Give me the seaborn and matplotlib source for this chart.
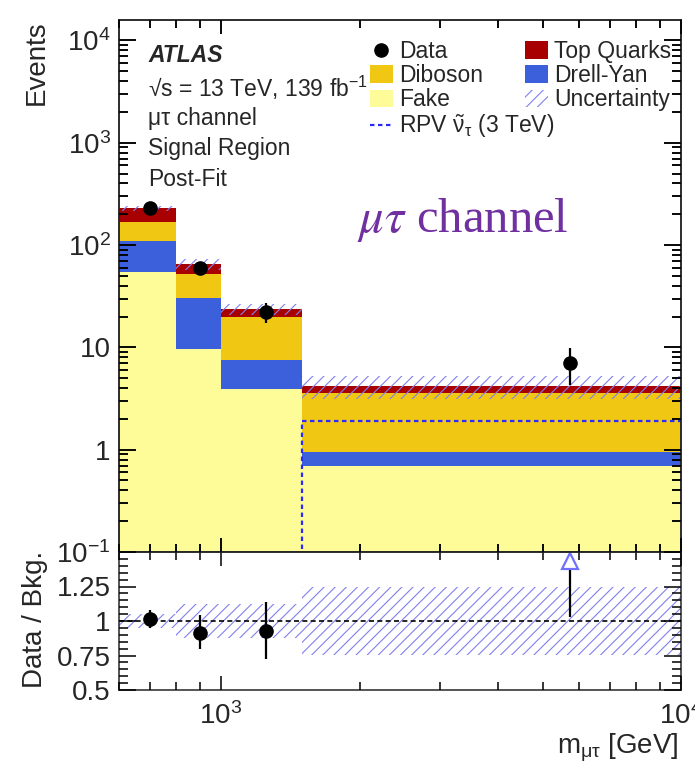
import numpy as np
import pandas as pd
import matplotlib
matplotlib.use("Agg")
import matplotlib.pyplot as plt
import seaborn as sns
from matplotlib.patches import Patch
from matplotlib.lines import Line2D
from matplotlib.ticker import FixedLocator, FuncFormatter, MultipleLocator, NullFormatter

# ---------------- data ----------------
bin_edges = [600, 800, 1000, 1500, 10000]
fake = [55.0, 9.6, 3.9, 0.69]
drell_yan = [55.0, 20.6, 3.7, 0.25]
diboson = [60.0, 22.5, 12.3, 2.65]
top_quarks = [58.0, 13.0, 3.9, 0.60]
data_counts = [231, 60, 22, 7]
data_err_up = [16.0, 8.5, 5.0, 2.8]
data_err_down = [15.0, 7.6, 4.7, 2.7]
rel_uncertainty = [0.05, 0.125, 0.125, 0.245]
signal_rpv = [0.01, 0.01, 0.02, 1.9]

process_names = ["Top Quarks", "Diboson", "Drell-Yan", "Fake"]
process_values = [top_quarks, diboson, drell_yan, fake]
colors = {"Top Quarks": "#a80000", "Diboson": "#f0c814",
          "Drell-Yan": "#3c5fdc", "Fake": "#fdfc99"}
hatch_color = "#8080f0"
signal_color = "#2a2aff"

# ---------------- style ----------------
sns.set_style("ticks")
plt.rcParams["font.family"] = ["Liberation Sans", "DejaVu Sans"]
plt.rcParams["mathtext.fontset"] = "custom"
plt.rcParams["mathtext.rm"] = "Liberation Sans"
plt.rcParams["mathtext.it"] = "Liberation Sans:italic"
plt.rcParams["mathtext.bf"] = "Liberation Sans:bold"
plt.rcParams["mathtext.default"] = "regular"
plt.rcParams["hatch.linewidth"] = 0.8
plt.rcParams["axes.linewidth"] = 1.1
plt.rcParams["axes.axisbelow"] = False

edges = np.array(bin_edges, dtype=float)
centers_geo = np.sqrt(edges[:-1] * edges[1:])
centers = 0.5 * (edges[:-1] + edges[1:])
total = np.sum(np.array(process_values), axis=0)
data_arr = np.array(data_counts, dtype=float)
up = np.array(data_err_up)
dn = np.array(data_err_down)
rel = np.array(rel_uncertainty)

rows = []
for name, vals in zip(process_names, process_values):
    for c, v in zip(centers_geo, vals):
        rows.append({"process": name, "mass": c, "events": v})
df = pd.DataFrame(rows)

W, H = 695, 769
fig = plt.figure(figsize=(W / 100, H / 100), dpi=100)
L, R = 119, 681
main_rect = [L / W, 1 - 552 / H, (R - L) / W, (552 - 20) / H]
ax = fig.add_axes(main_rect)
axr = fig.add_axes([L / W, 1 - 690 / H, (R - L) / W, (690 - 552) / H], sharex=ax)

ax.set_xscale("log")
ax.set_yscale("log")

sns.histplot(data=df, x="mass", weights="events", hue="process",
             hue_order=process_names, palette=colors, multiple="stack",
             bins=[float(b) for b in np.log10(edges)], element="bars", fill=True, alpha=1,
             linewidth=0, shrink=1, legend=False, ax=ax)

# uncertainty band
ax.stairs(total * (1 + rel), edges, baseline=total * (1 - rel), fill=True,
          facecolor="none", edgecolor=hatch_color, hatch="///", linewidth=0)

# signal
ax.stairs(signal_rpv, edges, baseline=None, color=signal_color,
          linestyle=(0, (2, 1.6)), linewidth=1.6)

# data
ax.errorbar(centers, data_arr, yerr=[dn, up], fmt="o", color="black",
            ms=9.5, elinewidth=1.6, capsize=0, zorder=5)

XLIM = (600, 10000)
YLIM = (0.1, 10 ** 4.2)
ax.set_xlim(*XLIM)
ax.set_ylim(*YLIM)
ax.set_xlabel("")
ax.set_ylabel("")

ylab = {1e4: "$10^{4}$", 1e3: "$10^{3}$", 1e2: "$10^{2}$", 10: "10", 1: "1", 0.1: "$10^{-1}$"}
minors = [m * 10.0 ** e for e in range(-1, 5) for m in range(2, 10)]
xlab = {1000: "$10^{3}$", 10000: "$10^{4}$"}
xminors = [600, 700, 800, 900] + [k * 1000 for k in range(2, 10)]

ax.yaxis.set_major_locator(FixedLocator(list(ylab.keys())))
ax.yaxis.set_major_formatter(FuncFormatter(lambda v, p: ylab.get(round(v, 6), "")))
ax.yaxis.set_minor_locator(FixedLocator(minors))
ax.yaxis.set_minor_formatter(NullFormatter())
ax.xaxis.set_major_locator(FixedLocator([1000, 10000]))
ax.xaxis.set_major_formatter(FuncFormatter(lambda v, p: xlab.get(int(round(v)), "")))
ax.xaxis.set_minor_locator(FixedLocator(xminors))
ax.xaxis.set_minor_formatter(NullFormatter())

# ---------------- ratio panel ----------------
ratio = data_arr / total
r_up = up / total
r_dn = dn / total
axr.stairs(1 + rel, edges, baseline=1 - rel, fill=True, facecolor="none",
           edgecolor=hatch_color, hatch="///", linewidth=0)
axr.axhline(1.0, color="black", linestyle=(0, (3, 2)), linewidth=1.2)
rmax = 1.5
inside = ratio <= rmax
axr.errorbar(centers[inside], ratio[inside], yerr=[r_dn[inside], r_up[inside]],
             fmt="o", color="black", ms=9.5, elinewidth=1.6, capsize=0, zorder=5)
arrow_y = rmax - 0.065
for c, rv, rd in zip(centers[~inside], ratio[~inside], r_dn[~inside]):
    axr.vlines(c, rv - rd, arrow_y - 0.03, color="black", linewidth=1.6)
    axr.plot([c], [arrow_y], marker="^", ms=12, mfc="white", mec="#7070ff", mew=1.6, ls="none")

axr.set_ylim(0.5, 1.5)
axr.yaxis.set_major_locator(FixedLocator([0.5, 0.75, 1.0, 1.25, 1.5]))
axr.yaxis.set_major_formatter(FuncFormatter(lambda v, p: "" if v > 1.4 else f"{v:g}"))
axr.yaxis.set_minor_locator(MultipleLocator(0.05))
axr.set_xlabel("")
axr.set_ylabel("")

# transparent overlay axes carrying the inward ticks of the main panel
axt = fig.add_axes(main_rect, label="tick_overlay")
axt.set_xscale("log")
axt.set_yscale("log")
axt.set_xlim(*XLIM)
axt.set_ylim(*YLIM)
axt.patch.set_visible(False)
axt.yaxis.set_major_locator(FixedLocator(list(ylab.keys())))
axt.yaxis.set_minor_locator(FixedLocator(minors))
axt.xaxis.set_major_locator(FixedLocator([1000, 10000]))
axt.xaxis.set_minor_locator(FixedLocator(xminors))
axt.yaxis.set_major_formatter(NullFormatter())
axt.yaxis.set_minor_formatter(NullFormatter())
axt.xaxis.set_major_formatter(NullFormatter())
axt.xaxis.set_minor_formatter(NullFormatter())

for a in (ax, axr, axt):
    a.set_axisbelow(False)
    a.tick_params(which="both", direction="in", left=True, right=True, top=True, bottom=True,
                  labelsize=20, width=1.1, color="black")
    a.tick_params(which="major", length=12, pad=6)
    a.tick_params(which="minor", length=6.5)
    a.tick_params(axis="x", which="major", length=10)
    a.tick_params(axis="x", which="minor", length=6)
ax.tick_params(labelbottom=False)
axt.tick_params(labelbottom=False, labelleft=False, labeltop=False, labelright=False)
axr.tick_params(axis="x", which="major", pad=9)

# ---------------- labels & texts ----------------
fig.text(37 / W, 1 - 20 / H, "Events", rotation=90, ha="center", va="top", fontsize=20)
fig.text(35 / W, 1 - 619 / H, "Data / Bkg.", rotation=90, ha="center", va="center", fontsize=20)
fig.text(679 / W, 1 - 748 / H, r"m$_{\mathregular{μτ}}$ [GeV]", ha="right", va="center", fontsize=20)

tx = 148 / W
fig.text(tx, 1 - 55 / H, "ATLAS", fontsize=16.5, fontweight="bold", style="italic", va="center")
fig.text(tx, 1 - 88 / H, "√s = 13 TeV, 139 fb$^{-1}$", fontsize=16.5, va="center")
fig.text(tx, 1 - 118 / H, "μτ channel", fontsize=16.5, va="center")
fig.text(tx, 1 - 148 / H, "Signal Region", fontsize=16.5, va="center")
fig.text(tx, 1 - 180 / H, "Post-Fit", fontsize=16.5, va="center")

fig.text(357 / W, 1 - 220 / H, r"$\mathit{\mu\tau}$ channel", fontsize=35, color="#7030a0",
         family="Liberation Serif", math_fontfamily="stix", va="center")

# legends
col1 = [Line2D([], [], marker="o", color="black", ls="none", ms=9.5),
        Patch(facecolor=colors["Diboson"], edgecolor="none"),
        Patch(facecolor=colors["Fake"], edgecolor="none"),
        Line2D([], [], color=signal_color, linestyle=(0, (2, 1.6)), linewidth=1.6)]
lab1 = ["Data", "Diboson", "Fake", r"RPV $\tilde{\nu}_{\tau}$ (3 TeV)"]
col2 = [Patch(facecolor=colors["Top Quarks"], edgecolor="none"),
        Patch(facecolor=colors["Drell-Yan"], edgecolor="none"),
        Patch(facecolor="none", edgecolor=hatch_color, hatch="///", linewidth=0)]
lab2 = ["Top Quarks", "Drell-Yan", "Uncertainty"]
common = dict(fontsize=16.5, frameon=False, handlelength=1.0, handleheight=0.8,
              handletextpad=0.28, labelspacing=0.05, borderpad=0, borderaxespad=0,
              loc="upper left", bbox_transform=fig.transFigure)
leg1 = ax.legend(col1, lab1, bbox_to_anchor=(370 / W, 1 - 40 / H), **common)
ax.add_artist(leg1)
leg2 = ax.legend(col2, lab2, bbox_to_anchor=(525 / W, 1 - 40 / H), **common)

fig.savefig("out.png", dpi=100)
